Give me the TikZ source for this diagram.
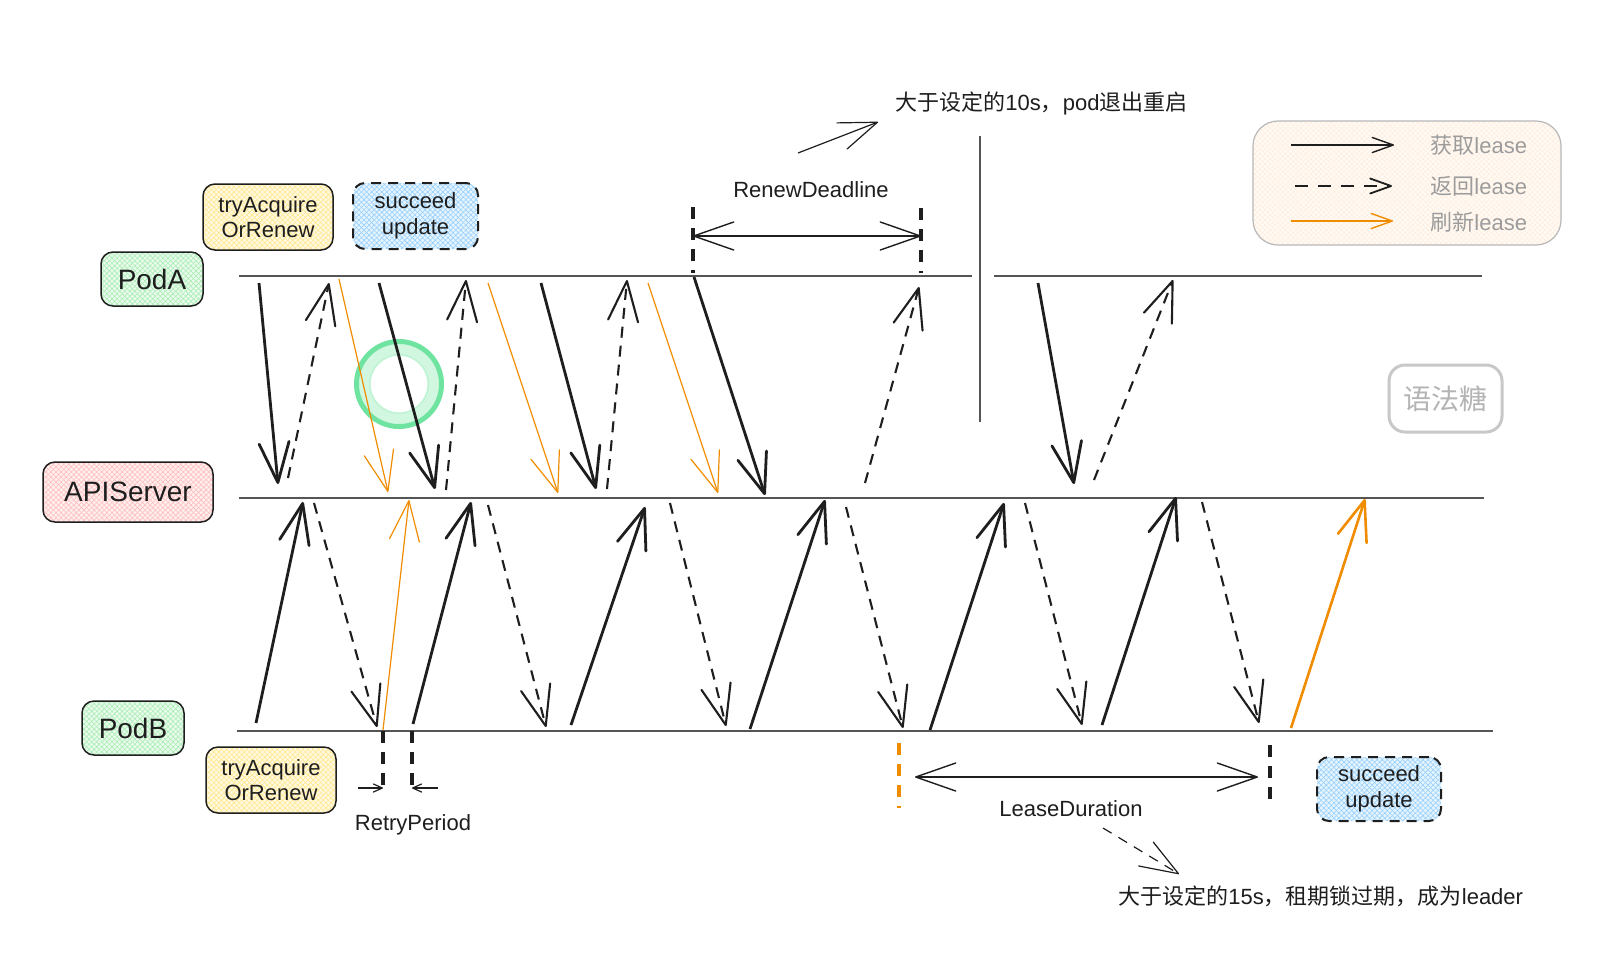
\documentclass[tikz,border=0pt]{standalone}
\usepackage{fontspec}
\setmainfont{Liberation Sans}
\newfontfamily\cjk{Noto Sans CJK SC}
\usetikzlibrary{arrows.meta,patterns.meta}

\definecolor{ink}{HTML}{1E1E1E}
\definecolor{lanegray}{HTML}{555555}
\definecolor{refresh}{HTML}{F08C00}
\definecolor{podgreen}{HTML}{8CE99A}
\definecolor{apired}{HTML}{FFA8A8}
\definecolor{tryyellow}{HTML}{FFE066}
\definecolor{okblue}{HTML}{74C0FC}
\definecolor{legendbg}{HTML}{FFE9D2}
\definecolor{legendline}{HTML}{B8B8B8}
\definecolor{legendtext}{HTML}{9C9C9C}
\definecolor{ringgreen}{HTML}{6FE3A0}
\definecolor{ringpale}{HTML}{D2F7E0}
\definecolor{sugarline}{HTML}{C8C8C8}
\definecolor{sugartext}{HTML}{B4B4B4}

\tikzset{
	every node/.style={font=\fontsize{11}{12.8}\selectfont, text=ink},
	hatch/.style={
		preaction={fill=#1!18},
		preaction={pattern={Lines[angle=45,distance=1.8pt,line width=0.3pt]}, pattern color=#1!75},
		preaction={pattern={Lines[angle=-45,distance=1.8pt,line width=0.3pt]}, pattern color=#1!75}},
	box/.style={draw=ink, line width=0.75pt, rounded corners=6pt, align=center, inner sep=0pt},
	okbox/.style={box, line width=1pt, dash pattern=on 5pt off 3.5pt},
	big/.style={font=\fontsize{14}{16}\selectfont},
	lane/.style={draw=lanegray, line width=1pt},
	acq/.style={ink, line width=1.4pt, -{Straight Barb[round, length=20pt, width=15pt]}},
	ret/.style={ink, line width=1.05pt, dash pattern=on 5.5pt off 4pt,
		-{Straight Barb[round, length=20pt, width=15pt]}},
	ren/.style={refresh, line width=0.6pt, -{Straight Barb[round, length=20pt, width=15pt]}},
	tickline/.style={ink, line width=1.6pt, dash pattern=on 6pt off 4.5pt},
	span/.style={ink, line width=0.7pt,
		{Straight Barb[round, length=20pt, width=14pt]}-{Straight Barb[round, length=20pt, width=14pt]}},
	note/.style={ink, line width=0.6pt, -{Straight Barb[round, length=19pt, width=14pt]}},
	key/.style={line width=0.7pt, -{Straight Barb[round, length=10.5pt, width=7.5pt]}},
	keytext/.style={anchor=west, inner sep=0pt, text=legendtext, font=\fontsize{11}{13}\selectfont}
}

\begin{document}
\begin{tikzpicture}[x=0.5pt, y=-0.5pt]

	\path[fill=white, use as bounding box] (0,0) rectangle (1616,976);

	% participants
	\node[box, big, hatch=podgreen, minimum width=51pt, minimum height=27pt] (podA) at (152,279) {PodA};
	\node[box, big, hatch=apired, minimum width=85pt, minimum height=30pt] (apiserver) at (128,492) {APIServer};
	\node[box, big, hatch=podgreen, minimum width=51pt, minimum height=27pt] (podB) at (133,728) {PodB};

	\node[box, hatch=tryyellow, minimum width=65pt, minimum height=33pt] (tryA) at (268,217) {tryAcquire\\OrRenew};
	\node[okbox, hatch=okblue, minimum width=62.5pt, minimum height=33pt] (okA) at (415.5,216) {succeed\\update};
	\node[box, hatch=tryyellow, minimum width=65pt, minimum height=33pt] (tryB) at (271,780) {tryAcquire\\OrRenew};
	\node[okbox, hatch=okblue, minimum width=62pt, minimum height=32pt] (okB) at (1379,789) {succeed\\update};

	% lanes
	\coordinate (laneA0) at (239,276);
	\coordinate (laneA1) at (972,276);
	\coordinate (laneA2) at (994,276);
	\coordinate (laneA3) at (1482,276);
	\coordinate (laneS0) at (239,498);
	\coordinate (laneS1) at (1484,498);
	\coordinate (laneB0) at (237,731);
	\coordinate (laneB1) at (1493,731);
	\draw[lane] (laneA0) -- (laneA1);
	\draw[lane] (laneA2) -- (laneA3);
	\draw[lane] (laneS0) -- (laneS1);
	\draw[lane] (laneB0) -- (laneB1);

	\coordinate (cutT) at (980,136);
	\coordinate (cutB) at (980,422);
	\draw[lane] (cutT) -- (cutB);

	% ring
	\draw[ringpale, line width=5.5pt] (399,384) circle[radius=17.25pt];
	\draw[ringgreen, line width=2.5pt] (399,384) circle[radius=21.25pt];
	\draw[ringgreen!45, line width=0.8pt] (399,384) circle[radius=14.6pt];

	% PodA <-> APIServer
	\foreach \n/\ax/\ay/\bx/\by in {1/259/283/278/484, 2/379/283/435/489, 3/541/283/596/489,
		4/694/277/765/495, 5/1038/283/1074/484}
	{
		\coordinate (acqA\n) at (\ax,\ay);
		\coordinate (acqS\n) at (\bx,\by);
		\draw[acq] (acqA\n) -- (acqS\n);
	}
	\foreach \n/\ax/\ay/\bx/\by in {1/288/478/329/283, 2/446/490/466/280, 3/607/489/627/280,
		4/865/483/919/287, 5/1094/480/1173/280}
	{
		\coordinate (retS\n) at (\ax,\ay);
		\coordinate (retA\n) at (\bx,\by);
		\draw[ret] (retS\n) -- (retA\n);
	}
	\foreach \n/\ax/\ay/\bx/\by in {1/339/279/388/492, 2/488/283/558/493, 3/648/283/718/493}
	{
		\coordinate (renA\n) at (\ax,\ay);
		\coordinate (renS\n) at (\bx,\by);
		\draw[ren] (renA\n) -- (renS\n);
	}

	% PodB <-> APIServer
	\foreach \n/\ax/\ay/\bx/\by in {1/256/723/303/502, 2/413/724/471/502, 3/571/725/645/507,
		4/750/729/825/500, 5/930/730/1004/503, 6/1102/725/1176/497}
	{
		\coordinate (acqB\n) at (\ax,\ay);
		\coordinate (acqT\n) at (\bx,\by);
		\draw[acq] (acqB\n) -- (acqT\n);
	}
	\foreach \n/\ax/\ay/\bx/\by in {1/314/503/377/727, 2/488/505/546/727, 3/670/503/726/726,
		4/846/507/903/728, 5/1025/503/1082/725, 6/1202/502/1259/723}
	{
		\coordinate (retT\n) at (\ax,\ay);
		\coordinate (retB\n) at (\bx,\by);
		\draw[ret] (retT\n) -- (retB\n);
	}
	\coordinate (renB1) at (383,730);
	\coordinate (renT1) at (409,500);
	\coordinate (renB2) at (1291,728);
	\coordinate (renT2) at (1365,499);
	\draw[ren] (renB1) -- (renT1);
	\draw[ren, line width=1.3pt] (renB2) -- (renT2);

	% RenewDeadline
	\coordinate (rdL0) at (693,207);
	\coordinate (rdL1) at (693,273);
	\coordinate (rdR0) at (921,208);
	\coordinate (rdR1) at (921,273);
	\coordinate (rdA) at (693,236);
	\coordinate (rdB) at (921,236);
	\draw[tickline] (rdL0) -- (rdL1);
	\draw[tickline] (rdR0) -- (rdR1);
	\draw[span] (rdA) -- (rdB);
	\node (renew) at (811,190) {RenewDeadline};

	\node[anchor=west, inner sep=0pt] (note10) at (895,103)
		{{\cjk 大于设定的}10s{\cjk ，}pod{\cjk 退出重启}};
	\coordinate (n10a) at (798,153);
	\coordinate (n10b) at (878,122);
	\draw[note] (n10a) -- (n10b);

	% RetryPeriod
	\coordinate (rpL0) at (383,731);
	\coordinate (rpL1) at (383,793);
	\coordinate (rpR0) at (412,731);
	\coordinate (rpR1) at (412,793);
	\coordinate (rpLa) at (358,788);
	\coordinate (rpLb) at (383,788);
	\coordinate (rpRa) at (438,788);
	\coordinate (rpRb) at (412,788);
	\draw[tickline] (rpL0) -- (rpL1);
	\draw[tickline] (rpR0) -- (rpR1);
	\draw[ink, line width=0.6pt, -{Straight Barb[round, length=4.5pt, width=4pt]}] (rpLa) -- (rpLb);
	\draw[ink, line width=0.6pt, -{Straight Barb[round, length=4.5pt, width=4pt]}] (rpRa) -- (rpRb);
	\node (retry) at (413,825) {RetryPeriod};

	% LeaseDuration
	\coordinate (ldL0) at (899,743);
	\coordinate (ldL1) at (899,808);
	\coordinate (ldR0) at (1270,745);
	\coordinate (ldR1) at (1270,808);
	\coordinate (ldA) at (915,777);
	\coordinate (ldB) at (1258,777);
	\draw[tickline, refresh] (ldL0) -- (ldL1);
	\draw[tickline] (ldR0) -- (ldR1);
	\draw[span] (ldA) -- (ldB);
	\node (lease) at (1071,809) {LeaseDuration};

	\node[anchor=west, inner sep=0pt] (note15) at (1118,896)
		{{\cjk 大于设定的}15s{\cjk ，租期锁过期，成为}leader};
	\coordinate (n15a) at (1103,828);
	\coordinate (n15b) at (1179,874);
	\draw[note, dash pattern=on 5pt off 4pt] (n15a) -- (n15b);

	% legend
	\node[draw=legendline, line width=0.6pt, rounded corners=12.5pt, hatch=legendbg,
		minimum width=154pt, minimum height=62pt] (legend) at (1407,183) {};
	\coordinate (kA0) at (1291,145);
	\coordinate (kA1) at (1394,145);
	\coordinate (kR0) at (1295,186);
	\coordinate (kR1) at (1392,186);
	\coordinate (kN0) at (1291,221);
	\coordinate (kN1) at (1393,221);
	\draw[key, ink] (kA0) -- (kA1);
	\draw[key, ink, line width=0.9pt, dash pattern=on 6.5pt off 5pt] (kR0) -- (kR1);
	\draw[key, refresh] (kN0) -- (kN1);
	\node[keytext] (keyA) at (1430,145) {{\cjk 获取}lease};
	\node[keytext] (keyR) at (1430,186) {{\cjk 返回}lease};
	\node[keytext] (keyN) at (1430,222) {{\cjk 刷新}lease};

	\node[draw=sugarline, line width=1.5pt, rounded corners=8pt, minimum width=56.5pt,
		minimum height=33.5pt, text=sugartext, font=\cjk\fontsize{14}{16}\selectfont]
		(sugar) at (1445.5,398.5) {语法糖};

\end{tikzpicture}
\end{document}
